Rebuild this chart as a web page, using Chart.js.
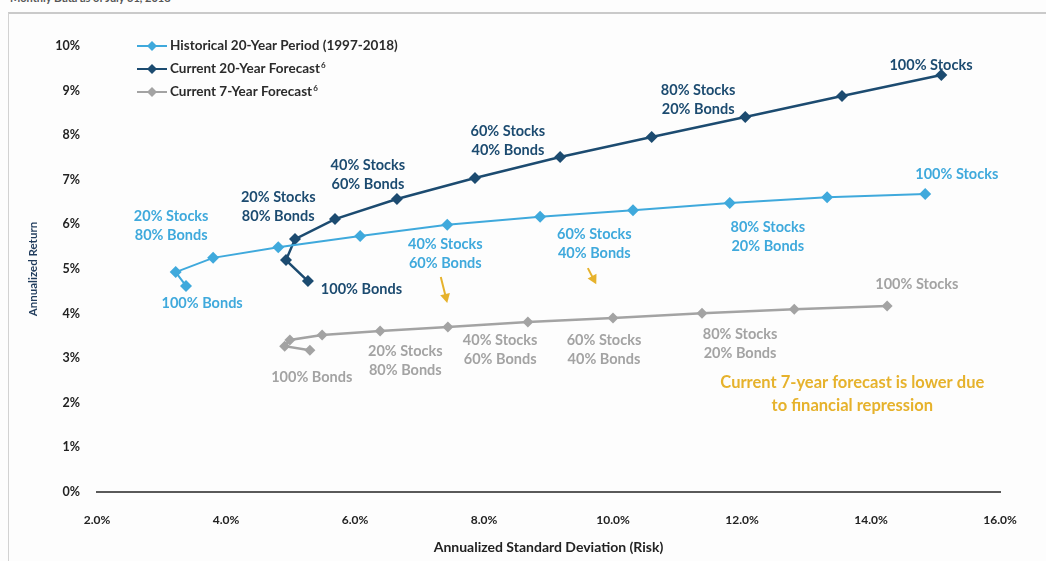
<!DOCTYPE html>
<html>
<head>
<meta charset="utf-8">
<script src="https://cdn.jsdelivr.net/npm/chart.js@4.4.1/dist/chart.umd.min.js"></script>
<style>
html, body { margin: 0; padding: 0; background: #fdfdfd; }
#wrap { position: relative; width: 1046px; height: 561px; overflow: hidden; }
#head { position: absolute; left: 10px; top: -9px; font: bold 11px Lato; color: #555; }
#frame { position: absolute; left: 8px; top: 12px; right: -4px; bottom: -4px; border-top: 2px solid #cacaca; border-left: 1px solid #d2d2d2; }
canvas { position: absolute; left: 0; top: 0; }
</style>
</head>
<body>
<div id="wrap">
  <div id="head">Monthly Data as of July 31, 2018</div>
  <div id="frame"></div>
  <canvas id="chart" width="1046" height="561"></canvas>
</div>
<script>
// values: risk (x, %) and return (y, %), 100% bonds -> 100% stocks
const histRisk = [3.38, 3.22, 3.80, 4.81, 6.08, 7.43, 8.87, 10.31, 11.81, 13.32, 14.84];
const histReturn = [4.62, 4.93, 5.25, 5.49, 5.74, 5.99, 6.17, 6.32, 6.48, 6.61, 6.68];
const fc20Risk = [5.27, 4.93, 5.07, 5.69, 6.65, 7.86, 9.18, 10.60, 12.05, 13.55, 15.09];
const fc20Return = [4.73, 5.20, 5.67, 6.12, 6.57, 7.04, 7.51, 7.96, 8.41, 8.88, 9.35];
const fc7Risk = [5.30, 4.91, 4.99, 5.49, 6.39, 7.44, 8.68, 10.00, 11.38, 12.81, 14.25];
const fc7Return = [3.18, 3.27, 3.41, 3.52, 3.61, 3.70, 3.81, 3.90, 4.01, 4.10, 4.17];
const seriesNames = ['Historical 20-Year Period (1997-2018)', 'Current 20-Year Forecast', 'Current 7-Year Forecast'];
const xTicks = [2, 4, 6, 8, 10, 12, 14, 16];
const yTicks = [0, 1, 2, 3, 4, 5, 6, 7, 8, 9, 10];

const LIGHT = '#3fa9dc';
const DARK = '#1c4b70';
const GREY = '#a3a3a3';
const GOLD = '#e6b22c';

const pts = (xs, ys) => xs.map((x, i) => ({ x: x, y: ys[i] }));

// text notes placed in data units
const notes = [
  { lines: ['20% Stocks', '80% Bonds'], x: 3.15, y: 5.96, color: LIGHT },
  { lines: ['100% Bonds'], x: 3.63, y: 4.22, color: LIGHT },
  { lines: ['40% Stocks', '60% Bonds'], x: 7.40, y: 5.35, color: LIGHT },
  { lines: ['60% Stocks', '40% Bonds'], x: 9.71, y: 5.56, color: LIGHT },
  { lines: ['80% Stocks', '20% Bonds'], x: 12.40, y: 5.73, color: LIGHT },
  { lines: ['100% Stocks'], x: 15.33, y: 7.13, color: LIGHT },
  { lines: ['20% Stocks', '80% Bonds'], x: 4.81, y: 6.40, color: DARK },
  { lines: ['40% Stocks', '60% Bonds'], x: 6.20, y: 7.11, color: DARK },
  { lines: ['60% Stocks', '40% Bonds'], x: 8.37, y: 7.88, color: DARK },
  { lines: ['80% Stocks', '20% Bonds'], x: 11.32, y: 8.80, color: DARK },
  { lines: ['100% Stocks'], x: 14.93, y: 9.57, color: DARK },
  { lines: ['100% Bonds'], x: 6.10, y: 4.55, color: DARK },
  { lines: ['100% Bonds'], x: 5.33, y: 2.56, color: GREY },
  { lines: ['20% Stocks', '80% Bonds'], x: 6.78, y: 2.94, color: GREY },
  { lines: ['40% Stocks', '60% Bonds'], x: 8.25, y: 3.18, color: GREY },
  { lines: ['60% Stocks', '40% Bonds'], x: 9.86, y: 3.18, color: GREY },
  { lines: ['80% Stocks', '20% Bonds'], x: 11.97, y: 3.33, color: GREY },
  { lines: ['100% Stocks'], x: 14.71, y: 4.66, color: GREY }
];
const arrows = [
  { x1: 7.33, y1: 4.82, x2: 7.43, y2: 4.24 },
  { x1: 9.61, y1: 5.02, x2: 9.74, y2: 4.66 }
];

const extras = {
  id: 'extras',
  afterDatasetsDraw(chart) {
    const ctx = chart.ctx;
    const xs = chart.scales.x, ys = chart.scales.y;
    ctx.save();
    ctx.textAlign = 'center';
    ctx.textBaseline = 'middle';
    ctx.font = 'bold 14.5px Lato';
    notes.forEach(n => {
      const px = xs.getPixelForValue(n.x), py = ys.getPixelForValue(n.y);
      ctx.fillStyle = n.color;
      n.lines.forEach((t, i) => {
        ctx.fillText(t, px, py + (i - (n.lines.length - 1) / 2) * 19);
      });
    });

    // gold arrows
    ctx.strokeStyle = GOLD;
    ctx.fillStyle = GOLD;
    ctx.lineWidth = 2;
    arrows.forEach(a => {
      const x1 = xs.getPixelForValue(a.x1), y1 = ys.getPixelForValue(a.y1);
      const x2 = xs.getPixelForValue(a.x2), y2 = ys.getPixelForValue(a.y2);
      const ang = Math.atan2(y2 - y1, x2 - x1);
      ctx.beginPath();
      ctx.moveTo(x1, y1);
      ctx.lineTo(x2 - 6 * Math.cos(ang), y2 - 6 * Math.sin(ang));
      ctx.stroke();
      ctx.beginPath();
      ctx.moveTo(x2, y2);
      ctx.lineTo(x2 - 9 * Math.cos(ang) + 5 * Math.sin(ang), y2 - 9 * Math.sin(ang) - 5 * Math.cos(ang));
      ctx.lineTo(x2 - 9 * Math.cos(ang) - 5 * Math.sin(ang), y2 - 9 * Math.sin(ang) + 5 * Math.cos(ang));
      ctx.closePath();
      ctx.fill();
    });

    ctx.font = 'bold 16.5px Lato';
    ctx.fillStyle = GOLD;
    const gx = xs.getPixelForValue(13.71), gy = ys.getPixelForValue(2.21);
    ctx.fillText('Current 7-year forecast is lower due', gx, gy - 11);
    ctx.fillText('to financial repression', gx, gy + 12);

    // legend
    const lx = chart.chartArea.left + 40, ly = chart.chartArea.top;
    const cols = [LIGHT, DARK, GREY];
    cols.forEach((c, i) => {
      const y = ly + i * 23;
      ctx.strokeStyle = c;
      ctx.fillStyle = c;
      ctx.lineWidth = 2;
      ctx.beginPath();
      ctx.moveTo(lx, y);
      ctx.lineTo(lx + 30, y);
      ctx.stroke();
      ctx.beginPath();
      ctx.moveTo(lx + 15, y - 5);
      ctx.lineTo(lx + 20, y);
      ctx.lineTo(lx + 15, y + 5);
      ctx.lineTo(lx + 10, y);
      ctx.closePath();
      ctx.fill();
      ctx.fillStyle = '#2b2b2b';
      ctx.textAlign = 'left';
      ctx.font = 'bold 13.5px Lato';
      ctx.fillText(seriesNames[i], lx + 33, y);
      if (i > 0) {
        const w = ctx.measureText(seriesNames[i]).width;
        ctx.font = 'bold 8px Lato';
        ctx.fillText('6', lx + 34 + w, y - 4);
      }
    });
    ctx.restore();
  }
};

new Chart(document.getElementById('chart'), {
  type: 'scatter',
  data: {
    datasets: [
      {
        label: seriesNames[0],
        data: pts(histRisk, histReturn),
        showLine: true,
        borderColor: LIGHT,
        backgroundColor: LIGHT,
        borderWidth: 2,
        pointStyle: 'rectRot',
        pointRadius: 6,
        pointBorderWidth: 0
      },
      {
        label: seriesNames[1],
        data: pts(fc20Risk, fc20Return),
        showLine: true,
        borderColor: DARK,
        backgroundColor: DARK,
        borderWidth: 2.5,
        pointStyle: 'rectRot',
        pointRadius: 6,
        pointBorderWidth: 0
      },
      {
        label: seriesNames[2],
        data: pts(fc7Risk, fc7Return),
        showLine: true,
        borderColor: GREY,
        backgroundColor: GREY,
        borderWidth: 2.5,
        pointStyle: 'rectRot',
        pointRadius: 5.5,
        pointBorderWidth: 0
      }
    ]
  },
  options: {
    responsive: false,
    animation: false,
    devicePixelRatio: 1,
    layout: { padding: { left: 0, right: 46, top: 46, bottom: 0 } },
    plugins: {
      legend: { display: false },
      tooltip: { enabled: false }
    },
    scales: {
      x: {
        min: 2,
        max: 16,
        afterFit(scale) { scale.height = 69; },
        afterBuildTicks(scale) { scale.ticks = xTicks.map(v => ({ value: v })); },
        grid: { display: false, drawTicks: false },
        border: { display: true, color: '#5a5a5a', width: 2 },
        ticks: {
          padding: 21,
          maxRotation: 0,
          color: '#222',
          font: { family: 'Lato', weight: 'bold', size: 12 },
          callback: v => v.toFixed(1) + '%'
        },
        title: {
          display: true,
          text: 'Annualized Standard Deviation (Risk)',
          color: '#222',
          font: { family: 'Lato', weight: 'bold', size: 14 },
          padding: { top: 5, bottom: 5 }
        }
      },
      y: {
        min: 0,
        max: 10,
        afterFit(scale) { scale.width = 97; },
        afterBuildTicks(scale) { scale.ticks = yTicks.map(v => ({ value: v })); },
        grid: { display: false, drawTicks: false },
        border: { display: false },
        ticks: {
          padding: 17,
          color: '#222',
          font: { family: 'Lato', weight: 'bold', size: 12.5 },
          callback: v => v + '%'
        },
        title: {
          display: true,
          text: 'Annualized Return',
          color: '#1f3b5c',
          font: { family: 'Lato', weight: 'bold', size: 11.5 },
          padding: { top: 26, bottom: 26 }
        }
      }
    }
  },
  plugins: [extras]
});
</script>
</body>
</html>
